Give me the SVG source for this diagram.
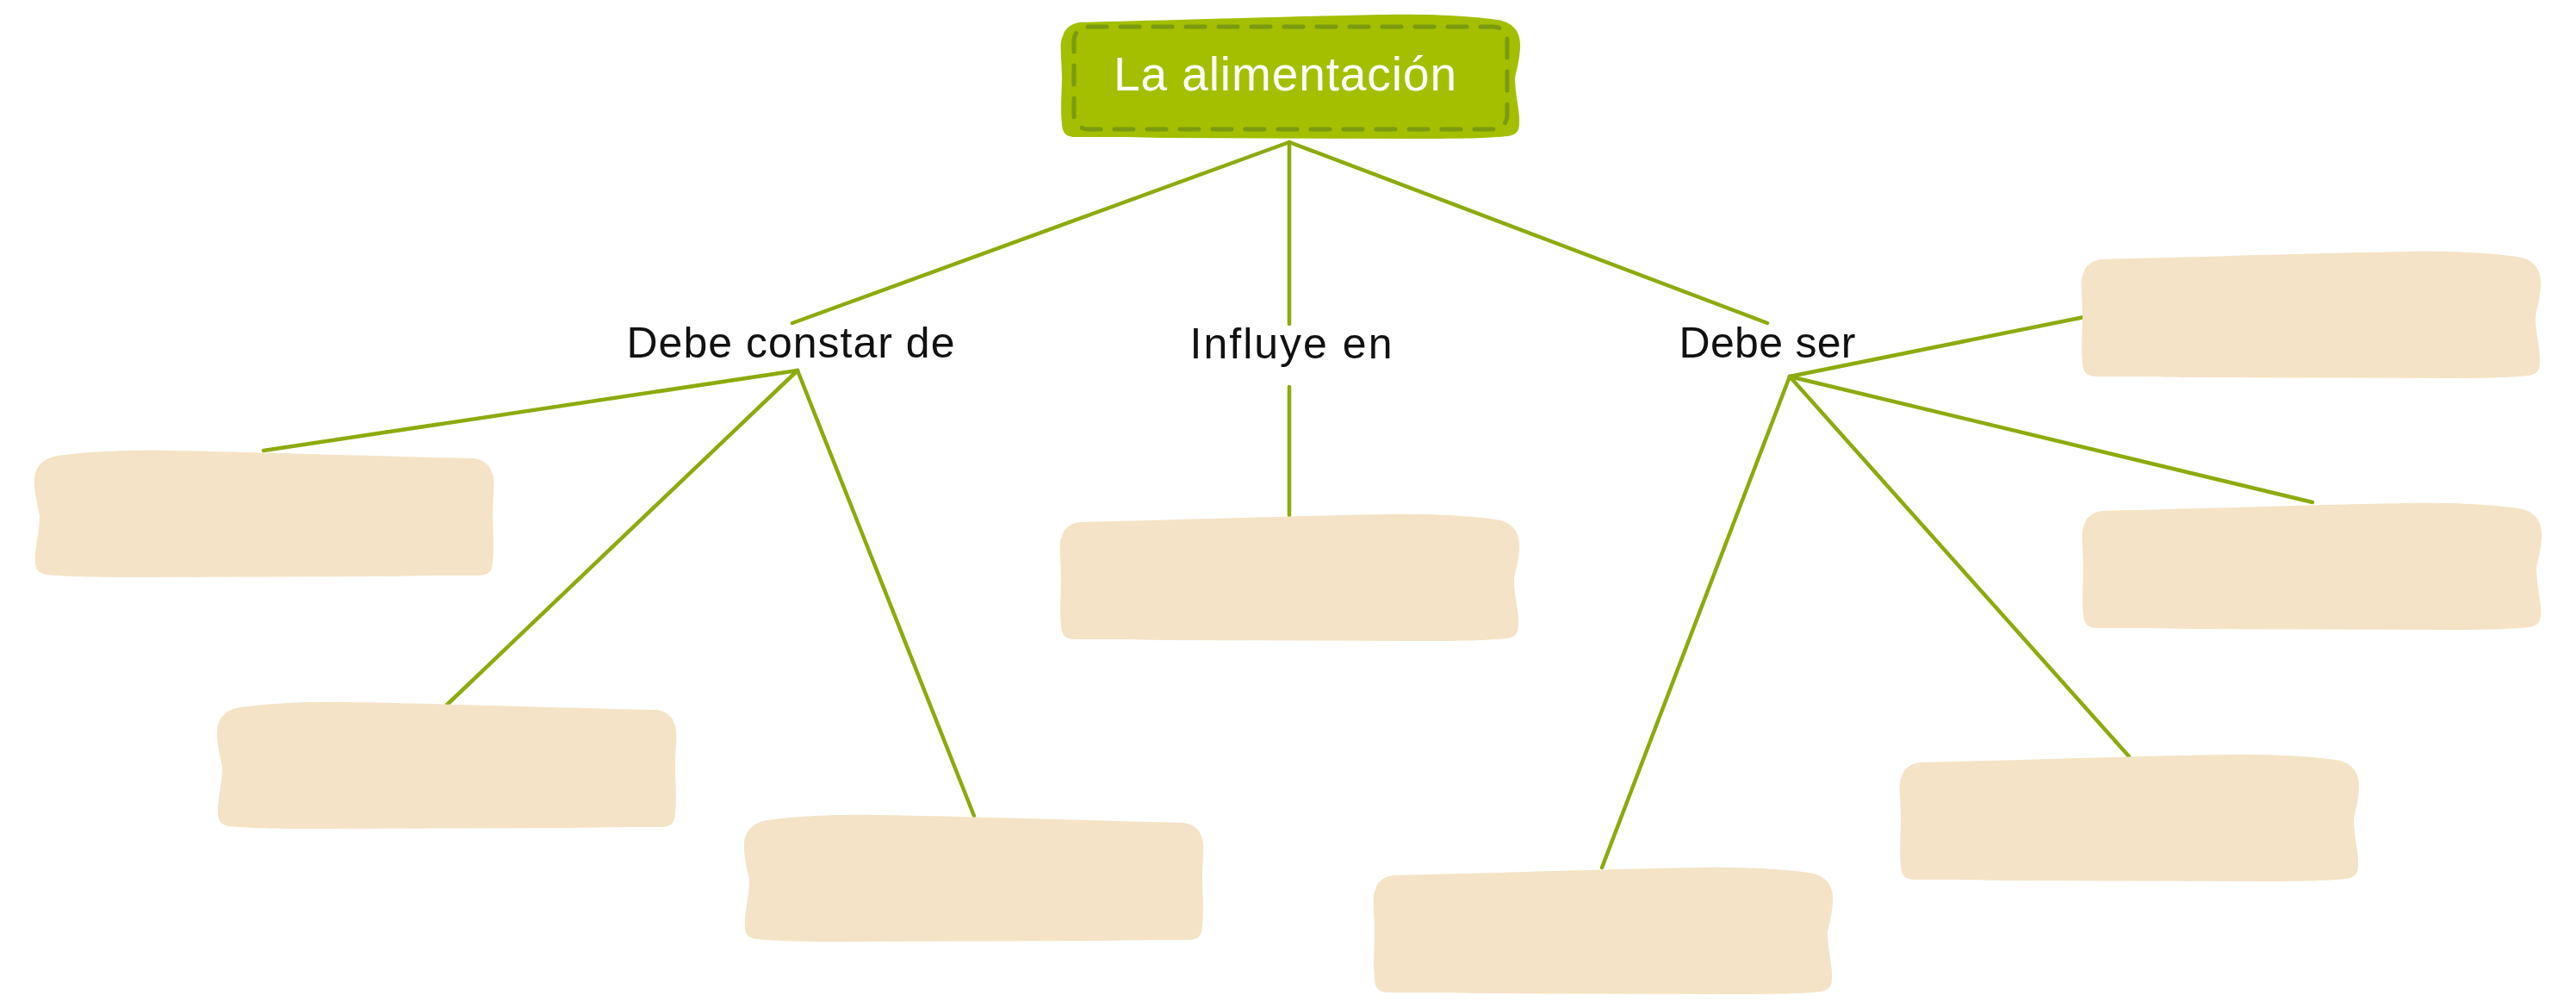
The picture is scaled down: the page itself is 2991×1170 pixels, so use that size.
<svg xmlns="http://www.w3.org/2000/svg" xmlns:xlink="http://www.w3.org/1999/xlink" width="2991" height="1170" viewBox="0 0 2991 1170">
  <style>
    .bg { fill: #ffffff; }
    .box { fill: #F4E3C6; }
    .title-box { fill: #A3BF00; }
    .stitch { fill: none; stroke: #7B9A12; stroke-width: 5; stroke-dasharray: 22 16; stroke-linecap: round; }
    .conn { stroke: #8CAB0C; stroke-width: 4.5; stroke-linecap: round; fill: none; }
    .label { font-family: "Liberation Sans", Arial, sans-serif; font-size: 50px; fill: #111111; text-anchor: middle; }
    .title { font-family: "Liberation Sans", Arial, sans-serif; font-size: 55px; fill: #ffffff; text-anchor: middle; }
  </style>
  <defs>
    <path id="blob" d="M 5,20 C 10,13 16,10 24,9 C 150,6 300,1 380,0 C 440,-1 490,3 512,7 C 530,12 535,25 534,40 C 533,55 530,65 528,75 C 528,95 534,115 533,128 C 533,138 530,142 520,144 C 500,146 480,147 420,147 L 120,146 C 80,145 60,145 20,145 C 6,145 3,140 2,130 C 0,110 2,90 2,75 C 2,55 -1,35 2,28 Z"/>
  </defs>
  <rect class="bg" x="0" y="0" width="2991" height="1170"/>

  <g id="connectors">
    <line class="conn" x1="1497" y1="165" x2="920" y2="375"/>
    <line class="conn" x1="1497" y1="165" x2="1497" y2="376"/>
    <line class="conn" x1="1497" y1="165" x2="2052" y2="375"/>
    <line class="conn" x1="926" y1="430" x2="306" y2="523"/>
    <line class="conn" x1="926" y1="430" x2="519" y2="818"/>
    <line class="conn" x1="926" y1="430" x2="1131" y2="947"/>
    <line class="conn" x1="1497" y1="449" x2="1497" y2="598"/>
    <line class="conn" x1="2078" y1="437" x2="2420" y2="368"/>
    <line class="conn" x1="2078" y1="437" x2="2685" y2="583"/>
    <line class="conn" x1="2078" y1="437" x2="2472" y2="878"/>
    <line class="conn" x1="2078" y1="437" x2="1860" y2="1007"/>
  </g>

  <g id="node-title">
    <use xlink:href="#blob" href="#blob" class="title-box" transform="translate(1231,17) scale(1,0.98)"/>
    <rect class="stitch" x="1247" y="31" width="503" height="119" rx="16" ry="16"/>
    <text class="title" x="1492" y="105" textLength="398">La alimentación</text>
  </g>

  <g id="label-debe-constar">
    <text class="label" x="918" y="415" textLength="381">Debe constar de</text>
  </g>
  <g id="label-influye">
    <text class="label" x="1499" y="416" textLength="235">Influye en</text>
  </g>
  <g id="label-debe-ser">
    <text class="label" x="2052" y="415" textLength="205">Debe ser</text>
  </g>

  <g id="node-l1"><use xlink:href="#blob" href="#blob" class="box" transform="translate(574,523) scale(-1,1)"/></g>
  <g id="node-l2"><use xlink:href="#blob" href="#blob" class="box" transform="translate(786,815) scale(-1,1)"/></g>
  <g id="node-l3"><use xlink:href="#blob" href="#blob" class="box" transform="translate(1398,946) scale(-1,1)"/></g>
  <g id="node-c"><use xlink:href="#blob" href="#blob" class="box" transform="translate(1230,597)"/></g>
  <g id="node-r1"><use xlink:href="#blob" href="#blob" class="box" transform="translate(2416,292)"/></g>
  <g id="node-r2"><use xlink:href="#blob" href="#blob" class="box" transform="translate(2417,584)"/></g>
  <g id="node-r3"><use xlink:href="#blob" href="#blob" class="box" transform="translate(2205,876)"/></g>
  <g id="node-b"><use xlink:href="#blob" href="#blob" class="box" transform="translate(1594,1007)"/></g>
</svg>
